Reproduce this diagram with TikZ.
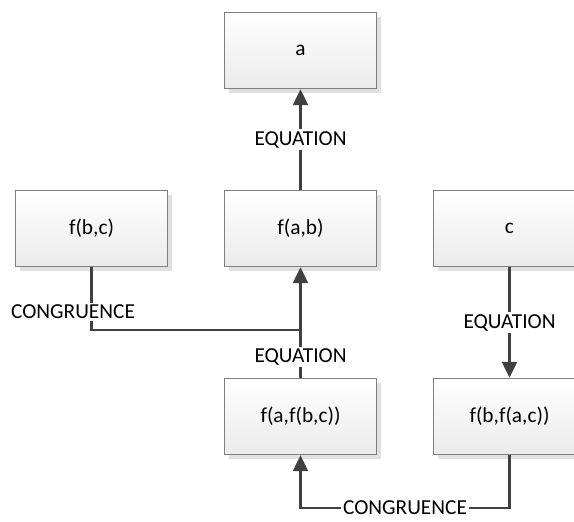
\documentclass[tikz,border=0pt]{standalone}
\usepackage{fontspec}
\setmainfont{Carlito}
\usetikzlibrary{arrows.meta,shadows}
\definecolor{linegray}{HTML}{404040}
\definecolor{boxedge}{HTML}{7F7F7F}

\tikzset{
  box/.style={draw=boxedge,line width=0.9pt,top color=white,bottom color=black!8,
    minimum width=114pt,minimum height=57pt,inner sep=0pt,
    font=\fontsize{16}{19}\selectfont,
    general shadow={fill=black!12,shadow xshift=3pt,shadow yshift=-3pt}},
  link/.style={draw=linegray,line width=2.2pt,-{Triangle[length=12pt,width=11pt]}},
  plain/.style={draw=linegray,line width=2.2pt},
  lbl/.style={fill=white,inner sep=1.5pt,font=\fontsize{16}{19}\selectfont}
}

\begin{document}
\begin{tikzpicture}[x=0.75pt,y=-0.75pt]
\clip (0,0) rectangle (574,521);
% the boxes
\node[box] (a) at (300.5,50.5) {a};
\node[box] (fbc) at (91.5,228.5) {f(b,c)};
\node[box] (fab) at (300.5,228.5) {f(a,b)};
\node[box] (c) at (509.5,228.5) {c};
\node[box] (fafbc) at (300.5,416.5) {f(a,f(b,c))};
\node[box] (fbfac) at (509.5,416.5) {f(b,f(a,c))};
% bend points
\coordinate (join) at (300.5,330);
\coordinate (low) at (0,508);
% the equations
\draw[link] (fab) -- node[lbl] {EQUATION} (a);
\draw[link] (fafbc) -- node[lbl,pos=0.19] {EQUATION} (fab);
\draw[link] (c) -- node[lbl] {EQUATION} (fbfac);
% the congruences
\draw[plain] (fbc) |- (join);
\node[lbl] (cong) at (73,312) {CONGRUENCE};
\draw[link] (fbfac.south) -- (fbfac.south |- low)
  -- node[lbl] {CONGRUENCE} (fafbc.south |- low) -- (fafbc.south);
\end{tikzpicture}
\end{document}
